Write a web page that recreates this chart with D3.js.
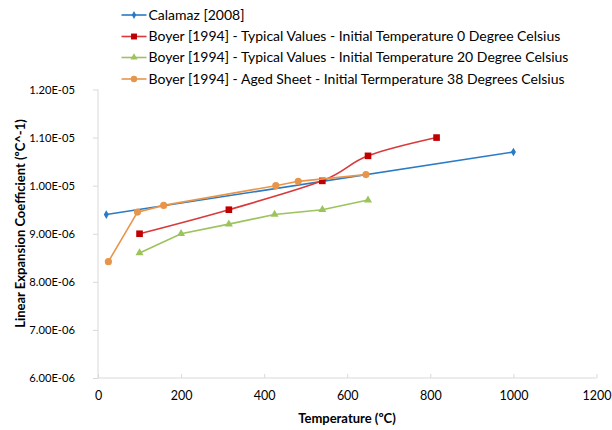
<!DOCTYPE html>
<html><head><meta charset="utf-8">
<script src="https://cdn.jsdelivr.net/npm/d3@7"></script>
<style>body{margin:0;background:#fff}svg{display:block}text{font-family:Lato,'Open Sans',sans-serif;fill:#000}</style>
</head><body><svg id="c" width="612" height="430"></svg>
<script>
const xTicks = [0,200,400,600,800,1000,1200];
const yTicks = [6e-6,7e-6,8e-6,9e-6,1e-5,1.1e-5,1.2e-5];
const yTickLabels = ["6.00E-06","7.00E-06","8.00E-06","9.00E-06","1.00E-05","1.10E-05","1.20E-05"];
const seriesNames = ["Calamaz [2008]","Boyer [1994] - Typical Values - Initial Temperature 0 Degree Celsius","Boyer [1994] - Typical Values - Initial Temperature 20 Degree Celsius","Boyer [1994] - Aged Sheet - Initial Termperature 38 Degrees Celsius"];
const calamazX = [20,1000];
const calamazY = [9.4e-6,1.07e-5];
const boyer0X = [100,315,540,650,815];
const boyer0Y = [9.0e-6,9.5e-6,1.01e-5,1.062e-5,1.10e-5];
const boyer20X = [100,200,315,425,540,650];
const boyer20Y = [8.6e-6,9.0e-6,9.2e-6,9.4e-6,9.5e-6,9.7e-6];
const agedX = [25,95,158,428,482,645];
const agedY = [8.42e-6,9.45e-6,9.59e-6,1.0e-5,1.009e-5,1.023e-5];

const svg = d3.select("#c");
const x = d3.scaleLinear().domain([0,1200]).range([98,596.5]);
const y = d3.scaleLinear().domain([6e-6,1.2e-5]).range([378,89.5]);

// axes
const gx = svg.append("g").attr("transform","translate(0,378)")
  .call(d3.axisBottom(x).tickValues(xTicks).tickSize(-4).tickPadding(13).tickFormat(d3.format("d")));
gx.select(".domain").attr("stroke","#d9d9d9").attr("d","M98,0H596.5");
gx.selectAll(".tick line").attr("stroke","#d9d9d9");
gx.selectAll(".tick text").attr("font-size",12.5).attr("font-family","Lato").attr("fill","#000");

const gy = svg.append("g").attr("transform","translate(98,0)")
  .call(d3.axisLeft(y).tickValues(yTicks).tickSize(5).tickPadding(18).tickFormat((d,i)=>yTickLabels[i]));
gy.select(".domain").attr("stroke","#d9d9d9").attr("d","M0,378V89.5");
gy.selectAll(".tick line").attr("stroke","#d9d9d9");
gy.selectAll(".tick text").attr("font-size",11.2).attr("font-family","Lato").attr("fill","#000");

svg.append("text").attr("x",347).attr("y",423).attr("text-anchor","middle")
  .attr("font-size",13).attr("font-weight","bold").text("Temperature (ºC)");
svg.append("text").attr("transform","translate(25,223.5) rotate(-90)").attr("text-anchor","middle")
  .attr("font-size",13).attr("font-weight","bold").text("Linear Expansion Coefficient (ºC^-1)");

const series = [
  {xs:calamazX, ys:calamazY, line:"#2a7ac6", fill:"#2a7ac6", sym:d3.symbolDiamond, size:22, curve:d3.curveLinear},
  {xs:boyer0X, ys:boyer0Y, line:"#d9393b", fill:"#c00000", sym:d3.symbolSquare, size:44, curve:d3.curveCatmullRom.alpha(0)},
  {xs:boyer20X, ys:boyer20Y, line:"#9cc35c", fill:"#9cc35c", sym:d3.symbolTriangle, size:28, curve:d3.curveLinear},
  {xs:agedX, ys:agedY, line:"#e8954a", fill:"#e8954a", sym:d3.symbolCircle, size:40, curve:d3.curveLinear}
];

series.forEach(s=>{
  const pts = s.xs.map((v,i)=>[v,s.ys[i]]);
  svg.append("path").datum(pts)
    .attr("d", d3.line().x(d=>x(d[0])).y(d=>y(d[1])).curve(s.curve))
    .attr("fill","none").attr("stroke",s.line).attr("stroke-width",1.6);
  svg.selectAll(null).data(pts).enter().append("path")
    .attr("transform",d=>`translate(${x(d[0])},${y(d[1])})`)
    .attr("d", d3.symbol().type(s.sym).size(s.size)).attr("fill",s.fill);
});

// legend
const legY = [15,36.5,57.5,79];
series.forEach((s,i)=>{
  const g = svg.append("g").attr("transform",`translate(0,${legY[i]})`);
  g.append("line").attr("x1",121.5).attr("x2",146.5).attr("y1",0).attr("y2",0).attr("stroke",s.line).attr("stroke-width",1.6);
  g.append("path").attr("transform","translate(134,0)").attr("d",d3.symbol().type(s.sym).size(s.size*0.8)).attr("fill",s.fill);
  g.append("text").attr("x",148.5).attr("y",0).attr("dy","0.35em").attr("font-size",14).text(seriesNames[i]);
});
</script></body></html>
